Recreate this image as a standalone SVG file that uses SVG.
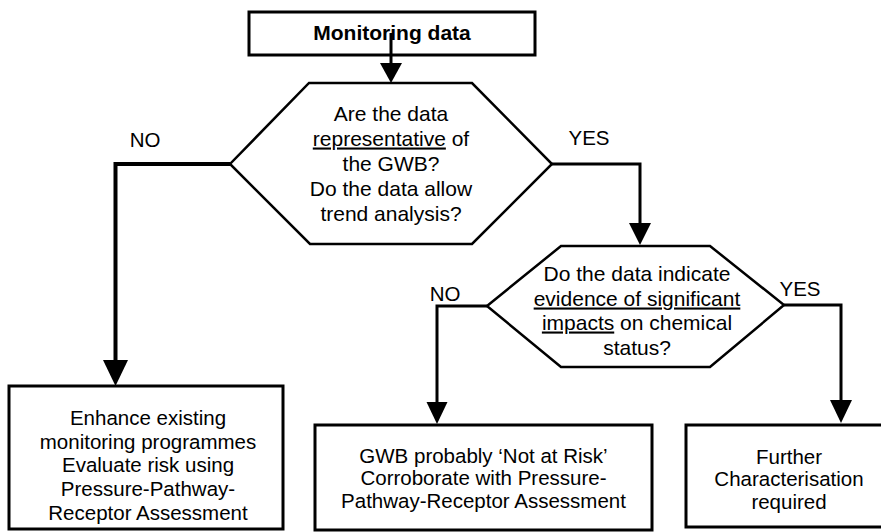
<svg xmlns="http://www.w3.org/2000/svg" width="881" height="532" viewBox="0 0 881 532">
<style>
.box{fill:#fff;stroke:#000;stroke-width:3}
.hex{fill:#fff;stroke:#000;stroke-width:2.5;stroke-linejoin:miter}
.t{font-family:"Liberation Sans",Arial,sans-serif;font-size:20.5px;fill:#000;text-anchor:middle}
.h{font-size:21px}
.b{font-weight:bold;font-size:21px}
.c{fill:none;stroke:#000;stroke-width:3}
.thick{stroke-width:4}
.ah{fill:#000;stroke:none}
.u{text-decoration:underline}
</style>
<rect width="881" height="532" fill="#fff"/>
<g id="node-monitoring">
<rect class="box" x="249" y="12" width="286" height="43"/>
<text class="t b" x="392" y="40">Monitoring data</text>
</g>
<g id="node-decision1">
<polygon class="hex" points="230,164 309,83 472,83 552,164 472,244 310,244"/>
<text class="t h" x="391"><tspan x="391" y="120.5">Are the data</tspan><tspan x="391" y="145.5"><tspan class="u">representative</tspan> of</tspan><tspan x="391" y="170.5">the GWB?</tspan><tspan x="391" y="195.5">Do the data allow</tspan><tspan x="391" y="220.5">trend analysis?</tspan></text>
</g>
<g id="node-decision2">
<polygon class="hex" points="487,306 561,246 710,246 784,305 710,367 561,367"/>
<text class="t h" x="637"><tspan x="637" y="280.5">Do the data indicate</tspan><tspan x="637" y="305.5" class="u">evidence of significant</tspan><tspan x="637" y="329.5"><tspan class="u">impacts</tspan> on chemical</tspan><tspan x="637" y="354.5">status?</tspan></text>
</g>
<g id="node-enhance">
<rect class="box" x="9" y="386" width="274" height="143"/>
<text class="t" x="148"><tspan x="148" y="424.5">Enhance existing</tspan><tspan x="148" y="448.5">monitoring programmes</tspan><tspan x="148" y="472">Evaluate risk using</tspan><tspan x="148" y="495.5">Pressure-Pathway-</tspan><tspan x="148" y="519.5">Receptor Assessment</tspan></text>
</g>
<g id="node-notatrisk">
<rect class="box" x="315" y="425" width="337" height="105"/>
<text class="t" x="483.5"><tspan x="483.5" y="462.5">GWB probably ‘Not at Risk’</tspan><tspan x="483.5" y="485">Corroborate with Pressure-</tspan><tspan x="483.5" y="507.5">Pathway-Receptor Assessment</tspan></text>
</g>
<g id="node-further">
<rect class="box" x="686" y="425" width="206" height="102"/>
<text class="t" x="789"><tspan x="789" y="464">Further</tspan><tspan x="789" y="486">Characterisation</tspan><tspan x="789" y="509">required</tspan></text>
</g>
<g id="connectors">
<path class="c" d="M391,33 V64"/>
<polygon class="ah" points="380,63 402,63 391,83"/>
<path class="c thick" d="M230,164 H115.5 V361"/>
<polygon class="ah" points="103,360 128,360 115.5,386"/>
<path class="c" d="M552,164 H640 V224"/>
<polygon class="ah" points="629,223 651,223 640,245"/>
<path class="c" d="M487,306 H437 V403"/>
<polygon class="ah" points="426.5,402 447.5,402 437,424"/>
<path class="c" d="M784,305 H841 V401"/>
<polygon class="ah" points="830,400 852,400 841,423"/>
<text class="t" x="145" y="147">NO</text>
<text class="t" x="589" y="145">YES</text>
<text class="t" x="445" y="301">NO</text>
<text class="t" x="800" y="296">YES</text>
</g>
</svg>
